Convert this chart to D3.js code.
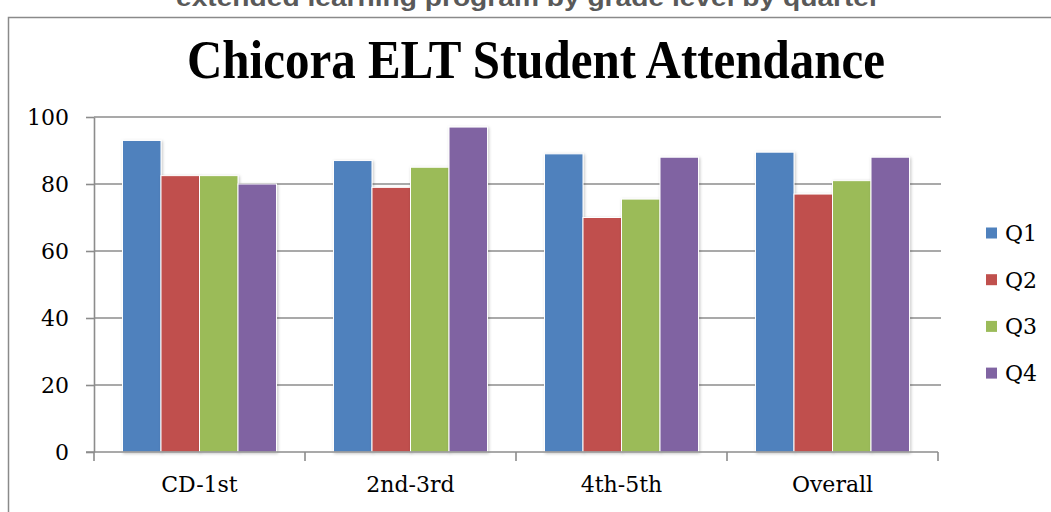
<!DOCTYPE html>
<html>
<head>
<meta charset="utf-8">
<script src="https://cdn.jsdelivr.net/npm/d3@7"></script>
<style>
  html, body { margin: 0; padding: 0; background: #fff; overflow: hidden; }
  svg { display: block; }
</style>
</head>
<body>
<svg id="chart" width="1051" height="512"></svg>
<script>
const categories = ["CD-1st", "2nd-3rd", "4th-5th", "Overall"];
const seriesNames = ["Q1", "Q2", "Q3", "Q4"];
const q1 = [93, 87, 89, 89.5];
const q2 = [82.5, 79, 70, 77];
const q3 = [82.5, 85, 75.5, 81];
const q4 = [80, 97, 88, 88];
const yTicks = [0, 20, 40, 60, 80, 100];
const colors = ["#4F81BD", "#C0504D", "#9BBB59", "#8064A2"];
const titleText = "Chicora ELT Student Attendance";
const subtitleText = "extended learning program by grade level by quarter";

const seriesValues = [q1, q2, q3, q4];

const svg = d3.select("#chart");
const serif = "'DejaVu Serif', serif";

// drop shadow filter
const defs = svg.append("defs");
const f = defs.append("filter").attr("id", "shadow").attr("x", "-20%").attr("y", "-20%").attr("width", "140%").attr("height", "140%");
f.append("feDropShadow").attr("dx", 1).attr("dy", 1).attr("stdDeviation", 1.5)
  .attr("flood-color", "#000").attr("flood-opacity", 0.25);

// cut-off subtitle above the frame
svg.append("text")
  .attr("x", 528).attr("y", 6)
  .attr("text-anchor", "middle")
  .attr("font-family", "'Liberation Sans', Arial, sans-serif")
  .attr("font-weight", "bold")
  .attr("font-size", 24)
  .attr("fill", "#595959")
  .attr("textLength", 704)
  .attr("lengthAdjust", "spacingAndGlyphs")
  .text(subtitleText);

// chart frame
svg.append("rect")
  .attr("x", 8.5).attr("y", 17.5)
  .attr("width", 1100).attr("height", 600)
  .attr("fill", "none")
  .attr("stroke", "#8a8a8a")
  .attr("stroke-width", 1.5);

// title
svg.append("text")
  .attr("x", 536).attr("y", 78)
  .attr("text-anchor", "middle")
  .attr("font-family", "'Liberation Serif', serif")
  .attr("font-weight", "bold")
  .attr("font-size", 54)
  .attr("fill", "#000")
  .attr("textLength", 698)
  .attr("lengthAdjust", "spacingAndGlyphs")
  .text(titleText);

const plotLeft = 94, plotRight = 938, plotTop = 117, plotBottom = 452;

const y = d3.scaleLinear().domain([0, 100]).range([plotBottom, plotTop]);
const x0 = d3.scaleBand().domain(categories).range([plotLeft, plotRight]).paddingInner(0).paddingOuter(0);
const x1 = d3.scaleBand().domain(seriesNames).range([0, x0.bandwidth()]).paddingInner(0).paddingOuter(0.74);
const color = d3.scaleOrdinal().domain(seriesNames).range(colors);

// gridlines
const grid = svg.append("g");
grid.selectAll("line").data(yTicks.filter(t => t > 0)).join("line")
  .attr("x1", plotLeft).attr("x2", plotRight + 3)
  .attr("y1", d => y(d)).attr("y2", d => y(d))
  .attr("stroke", "#8c8c8c").attr("stroke-width", 1.6);

// y axis
const yAxis = svg.append("g")
  .attr("transform", `translate(${plotLeft},0)`)
  .call(d3.axisLeft(y).tickValues(yTicks).tickSize(8).tickPadding(17).tickSizeOuter(0));
yAxis.select(".domain").attr("stroke", "#8c8c8c").attr("stroke-width", 1.6);
yAxis.selectAll(".tick line").attr("stroke", "#8c8c8c").attr("stroke-width", 1.6);
yAxis.selectAll(".tick text").attr("font-family", serif).attr("font-size", 22).attr("fill", "#000");

// bars
const groups = svg.append("g").selectAll("g").data(categories).join("g")
  .attr("transform", d => `translate(${x0(d)},0)`);
groups.selectAll("rect")
  .data((c, ci) => seriesNames.map((s, si) => ({ s, v: seriesValues[si][ci] })))
  .join("rect")
  .attr("x", d => x1(d.s))
  .attr("y", d => y(d.v))
  .attr("width", x1.bandwidth())
  .attr("height", d => y(0) - y(d.v))
  .attr("fill", d => color(d.s))
  .attr("stroke", "#fff")
  .attr("stroke-width", 1)
  .attr("filter", "url(#shadow)");

// x axis
const xAxis = svg.append("g")
  .attr("transform", `translate(0,${plotBottom})`);
xAxis.append("line")
  .attr("x1", plotLeft - 8).attr("x2", plotRight)
  .attr("y1", 0).attr("y2", 0)
  .attr("stroke", "#8c8c8c").attr("stroke-width", 1.6);
const bounds = categories.map(c => x0(c)).concat([x0(categories[categories.length - 1]) + x0.bandwidth()]);
xAxis.selectAll("line.tk").data(bounds).join("line").attr("class", "tk")
  .attr("x1", d => d).attr("x2", d => d)
  .attr("y1", 0).attr("y2", 9)
  .attr("stroke", "#8c8c8c").attr("stroke-width", 1.6);
xAxis.selectAll("text").data(categories).join("text")
  .attr("x", d => x0(d) + x0.bandwidth() / 2)
  .attr("y", 40)
  .attr("text-anchor", "middle")
  .attr("font-family", serif).attr("font-size", 22).attr("fill", "#000")
  .text(d => d);

// legend
const legend = svg.append("g").attr("transform", "translate(986,0)");
const li = legend.selectAll("g").data(seriesNames).join("g")
  .attr("transform", (d, i) => `translate(0,${233 + i * 46.7})`);
li.append("rect").attr("x", 0).attr("y", -5.5).attr("width", 11).attr("height", 11)
  .attr("fill", d => color(d));
li.append("text").attr("x", 19).attr("y", 8)
  .attr("font-family", serif).attr("font-size", 22).attr("fill", "#000")
  .text(d => d);
</script>
</body>
</html>
